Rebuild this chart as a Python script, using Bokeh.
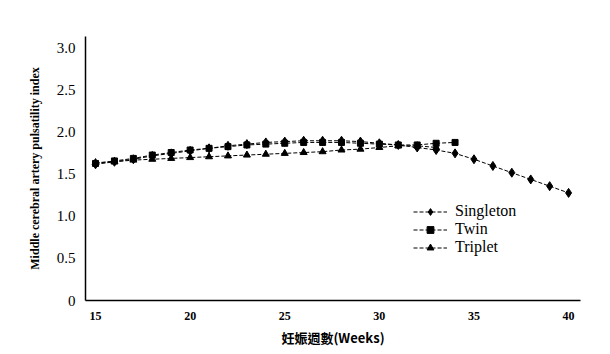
from bokeh.plotting import figure
from bokeh.models import FixedTicker, Legend, LegendItem
from bokeh.embed import file_html
from bokeh.resources import INLINE

weeks_single = list(range(15, 41))
singleton = [1.62, 1.65, 1.68, 1.72, 1.75, 1.78, 1.81, 1.84, 1.86, 1.88, 1.89, 1.90, 1.90,
             1.90, 1.89, 1.87, 1.85, 1.82, 1.79, 1.75, 1.68, 1.60, 1.52, 1.44, 1.36, 1.28]
weeks_twin = list(range(15, 35))
twin = [1.63, 1.66, 1.69, 1.73, 1.76, 1.79, 1.81, 1.83, 1.85, 1.86, 1.87, 1.88, 1.88,
        1.88, 1.87, 1.86, 1.85, 1.85, 1.87, 1.88]
weeks_triplet = list(range(15, 34))
triplet = [1.64, 1.65, 1.67, 1.68, 1.69, 1.70, 1.71, 1.72, 1.73, 1.74, 1.75, 1.76, 1.77,
           1.79, 1.80, 1.82, 1.84, 1.84, 1.82]

x_ticks = [15, 20, 25, 30, 35, 40]
y_ticks = [0, 0.5, 1.0, 1.5, 2.0, 2.5, 3.0]
y_labels = ["0", "0.5", "1.0", "1.5", "2.0", "2.5", "3.0"]

p = figure(width=610, height=354, output_backend="svg", toolbar_location=None,
           x_range=(14.47, 40.63), y_range=(0, 3.14))
p.min_border_left = 85
p.min_border_right = 30
p.min_border_top = 36
p.min_border_bottom = 54
p.outline_line_color = None
p.grid.visible = False
p.background_fill_color = "white"

serif = "Liberation Serif"

p.xaxis.ticker = FixedTicker(ticks=x_ticks)
p.yaxis.ticker = FixedTicker(ticks=y_ticks)
p.yaxis.major_label_overrides = {t: l for t, l in zip(y_ticks, y_labels)}
for ax in (p.xaxis, p.yaxis):
    ax.axis_line_color = "black"
    ax.axis_line_width = 1.5
    ax.major_tick_line_color = None
    ax.minor_tick_line_color = None
    ax.major_label_text_font = serif
    ax.major_label_text_color = "black"
    ax.axis_label_text_color = "black"
    ax.axis_label_text_font_style = "bold"
p.xaxis.major_label_text_font_size = "12px"
p.xaxis.major_label_text_font_style = "bold"
p.xaxis.major_label_standoff = 5
p.yaxis.major_label_text_font_size = "15px"
p.yaxis.major_label_standoff = 4
p.xaxis.axis_label = "妊娠週數(Weeks)"
p.xaxis.axis_label_text_font = "Noto Sans CJK TC"
p.xaxis.axis_label_text_font_size = "13px"
p.xaxis.axis_label_standoff = 5
p.yaxis.axis_label = "Middle cerebral artery pulsatility index"
p.yaxis.axis_label_text_font = serif
p.yaxis.axis_label_text_font_size = "12px"
p.yaxis.axis_label_standoff = 12

items = []
for xs, ys, marker, name, sz in [
    (weeks_single, singleton, "diamond", "Singleton", 9),
    (weeks_twin, twin, "square", "Twin", 6),
    (weeks_triplet, triplet, "triangle", "Triplet", 7),
]:
    ln = p.line(xs, ys, line_color="black", line_width=1, line_dash="4 2")
    sc = p.scatter(xs, ys, marker=marker, size=sz, fill_color="black", line_color="black")
    items.append(LegendItem(label=name, renderers=[ln, sc]))

legend = Legend(items=items, location=(328, 44))
legend.label_text_font = serif
legend.label_text_font_size = "16px"
legend.label_text_color = "black"
legend.background_fill_alpha = 0
legend.border_line_color = None
legend.spacing = 0
legend.padding = 0
legend.glyph_height = 17
legend.label_height = 17
legend.glyph_width = 34
legend.label_standoff = 8
p.add_layout(legend)

open("out.html", "w").write(file_html(p, INLINE))
